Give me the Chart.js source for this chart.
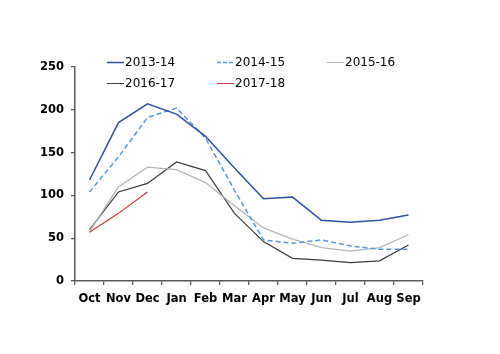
<!DOCTYPE html>
<html><head><meta charset="utf-8">
<script src="https://cdn.jsdelivr.net/npm/chart.js@4/dist/chart.umd.min.js"></script>
<style>html,body{margin:0;padding:0;background:#fff}#wrap{width:500px;height:354px}</style>
</head><body><div id="wrap"><canvas id="c" width="500" height="354"></canvas></div>
<script>
const months = ['Oct','Nov','Dec','Jan','Feb','Mar','Apr','May','Jun','Jul','Aug','Sep'];
const yTicks = [0,50,100,150,200,250];
const s2013 = [118,185,207,195,169,132,96,98,71,68.5,71,77];
const s2014 = [104,145,191,202,167,106,48,44,48,41,37,37];
const s2015 = [58,110,133,130,115,88,62,49,39,35,39,54];
const s2016 = [60,104,114,139,129,79,46,26.5,24.5,21.5,23.5,42];
const s2017 = [57,79,104];
const seriesNames = ['2013-14','2014-15','2015-16','2016-17','2017-18'];

const styles = [
  {c:'#2E509E', w:1.5, d:[]},
  {c:'#5596DE', w:1.5, d:[5,3]},
  {c:'#B4B4B4', w:1.3, d:[]},
  {c:'#3C3C3C', w:1.2, d:[]},
  {c:'#C8383A', w:1.2, d:[]}
];
const vals = [s2013,s2014,s2015,s2016,s2017];
const datasets = vals.map((v,i)=>({label:seriesNames[i], data:v, borderColor:styles[i].c, backgroundColor:styles[i].c,
  borderWidth:styles[i].w, borderDash:styles[i].d, pointRadius:0, tension:0, fill:false}));

const legendPos = [[107,62],[217,62],[327,62],[107,83],[217,83]];
const legendPlugin = {
  id:'customLegend',
  afterDraw(chart){
    const ctx = chart.ctx;
    ctx.save();
    chart.data.datasets.forEach((ds,i)=>{
      const [x,y] = legendPos[i];
      ctx.strokeStyle = ds.borderColor; ctx.lineWidth = i<2 ? 1.5 : 1;
      ctx.setLineDash(i===1?[4,2]:[]);
      ctx.beginPath(); ctx.moveTo(x,y+0.5); ctx.lineTo(x+17,y+0.5); ctx.stroke();
      ctx.setLineDash([]);
      ctx.fillStyle = '#000'; ctx.font = '12px "DejaVu Sans"'; ctx.textBaseline='middle'; ctx.textAlign='left';
      ctx.fillText(ds.label, x+18, y+1);
    });
    ctx.restore();
  }
};

new Chart(document.getElementById('c'), {
  type:'line',
  data:{labels:months, datasets},
  options:{
    responsive:false, animation:false, devicePixelRatio:1,
    layout:{padding:{left:0,right:77,top:67,bottom:43}},
    plugins:{legend:{display:false}, tooltip:{enabled:false}},
    scales:{
      x:{
        offset:true,
        grid:{display:true, drawOnChartArea:false, drawTicks:true, tickLength:4, color:'#595959', lineWidth:1.3, offset:true},
        border:{display:true, color:'#595959', width:1.5},
        ticks:{color:'#000', font:{family:'DejaVu Sans', size:11.5, weight:'bold'}, padding:7, maxRotation:0, autoSkip:false},
        afterFit(s){ s.height = 30; }
      },
      y:{
        min:0, max:250,
        afterBuildTicks(s){ s.ticks = yTicks.map(v=>({value:v})); },
        grid:{display:true, drawOnChartArea:false, drawTicks:true, tickLength:4, color:'#595959', lineWidth:1.3},
        border:{display:true, color:'#595959', width:1.5},
        ticks:{color:'#000', font:{family:'DejaVu Sans', size:11.5, weight:'bold'}, padding:7},
        afterFit(s){ s.width = 75; }
      }
    }
  },
  plugins:[legendPlugin]
});
</script></body></html>
